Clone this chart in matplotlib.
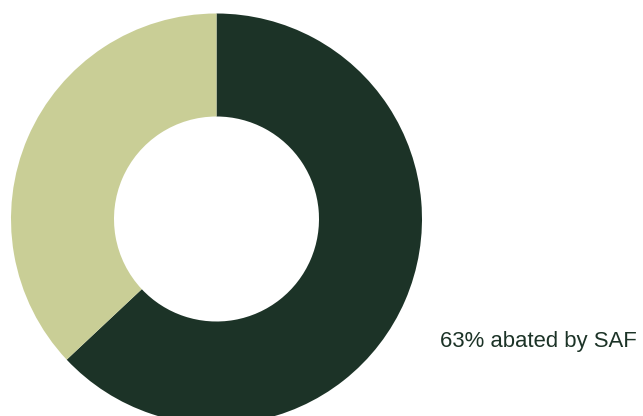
import matplotlib

matplotlib.use("Agg")

import matplotlib.pyplot as plt

# share of emissions abated, clockwise from 12 o'clock
segment_labels = ["Abated by SAF", "Remaining"]
segment_values = [63, 37]
segment_colors = ["#1c3327", "#c9ce96"]
annotation = "63% abated by SAF"

plt.rcParams["font.family"] = ["Liberation Sans", "DejaVu Sans"]

fig = plt.figure(figsize=(6.43, 4.16), dpi=100)
ax = fig.add_axes([0, 0, 1, 1])

# pixel-based coordinates so the ring lands where it does in the reference
center = (216.5, 416 - 219)
radius = 205.5

ax.pie(
    segment_values,
    colors=segment_colors,
    startangle=90,
    counterclock=False,
    center=center,
    radius=radius,
    wedgeprops={"width": radius - 102.5, "linewidth": 0},
    frame=False,
)

ax.set_xlim(0, 643)
ax.set_ylim(0, 416)
ax.set_aspect("equal")
ax.axis("off")

ax.text(440, 416 - 347, annotation, fontsize=15.9, color="#1c3327",
        ha="left", va="baseline")

fig.savefig("out.png", dpi=100)
plt.close(fig)
